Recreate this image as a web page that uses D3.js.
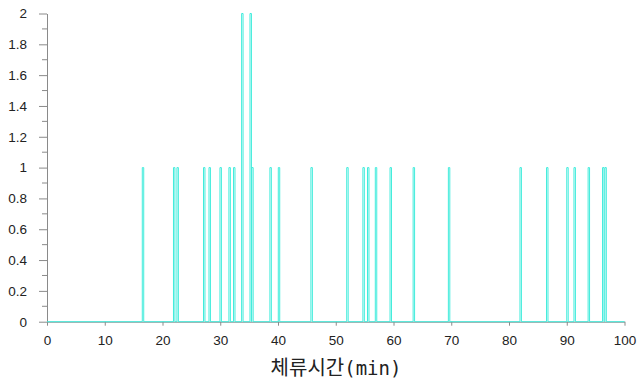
<!DOCTYPE html>
<html>
<head>
<meta charset="utf-8">
<script src="https://cdn.jsdelivr.net/npm/d3@7"></script>
<style>
  body { margin: 0; background: #fff; }
  svg { display: block; }
</style>
</head>
<body>
<svg id="chart" width="637" height="387"></svg>
<script>
const retentionTimes = [16.5, 21.9, 22.5, 27.1, 28.05, 29.95, 31.5, 32.3, 33.7, 35.15, 35.45,
  38.6, 40.05, 45.7, 51.9, 54.7, 55.5, 56.85, 59.4, 63.4, 69.5, 81.9, 86.5, 90.0, 91.25,
  93.7, 96.2, 96.6]
const peakCounts = [1, 1, 1, 1, 1, 1, 1, 1, 2, 2, 1,
  1, 1, 1, 1, 1, 1, 1, 1, 1, 1, 1, 1, 1, 1,
  1, 1, 1]
const xTicks = [0, 10, 20, 30, 40, 50, 60, 70, 80, 90, 100]
const yTicks = [0, 0.2, 0.4, 0.6, 0.8, 1, 1.2, 1.4, 1.6, 1.8, 2]
const yMinorTicks = [0.1, 0.3, 0.5, 0.7, 0.9, 1.1, 1.3, 1.5, 1.7, 1.9]
const xTitle = '체류시간'
const xUnit = '(min)'

const svg = d3.select('#chart')
const axisColor = '#8a8a8a'
const lineColor = '#40ecdc'
const peakWidth = 0.25

const x = d3.scaleLinear().domain([0, 100]).range([47, 624.5])
const y = d3.scaleLinear().domain([0, 2]).range([321.7, 13.5])

// y axis, major + minor ticks
const yAxis = svg.append('g')
  .attr('transform', `translate(${x(0)},0)`)
  .call(d3.axisLeft(y).tickValues(yTicks).tickSize(8).tickSizeOuter(0)
    .tickFormat((d) => String(+d.toFixed(1))))
yAxis.append('g')
  .selectAll('line')
  .data(yMinorTicks)
  .join('line')
  .attr('x1', -5)
  .attr('x2', 0)
  .attr('y1', (d) => y(d))
  .attr('y2', (d) => y(d))
  .attr('stroke', axisColor)

// x axis
const xAxis = svg.append('g')
  .attr('transform', `translate(0,${y(0)})`)
  .call(d3.axisBottom(x).tickValues(xTicks).tickSize(4).tickSizeOuter(0))

svg.selectAll('.domain, .tick line').attr('stroke', axisColor)
svg.selectAll('.tick text')
  .attr('fill', '#222')
  .style('font-family', 'Liberation Sans, Arial, sans-serif')
  .style('font-size', '13.5px')
yAxis.selectAll('.tick text').attr('x', -20)
xAxis.selectAll('.tick text').attr('y', 14)

// peak trace: flat baseline with a narrow pulse at each retention time
const pts = [[0, 0]]
retentionTimes.forEach((t, i) => {
  const h = peakCounts[i]
  pts.push([t, 0], [t, h], [t + peakWidth, h], [t + peakWidth, 0])
})
pts.push([100, 0])

svg.append('path')
  .datum(pts)
  .attr('fill', 'none')
  .attr('stroke', lineColor)
  .attr('stroke-width', 1)
  .attr('d', d3.line().x((d) => x(d[0])).y((d) => y(d[1])))

// axis title
const title = svg.append('text')
  .attr('x', 336)
  .attr('y', 375)
  .attr('text-anchor', 'middle')
  .attr('fill', '#222')
  .style('font-size', '20px')
title.append('tspan')
  .style('font-family', 'Noto Sans CJK KR, sans-serif')
  .text(xTitle)
title.append('tspan')
  .style('font-family', 'DejaVu Sans Mono, monospace')
  .style('font-size', '19px')
  .text(xUnit)
</script>
</body>
</html>
